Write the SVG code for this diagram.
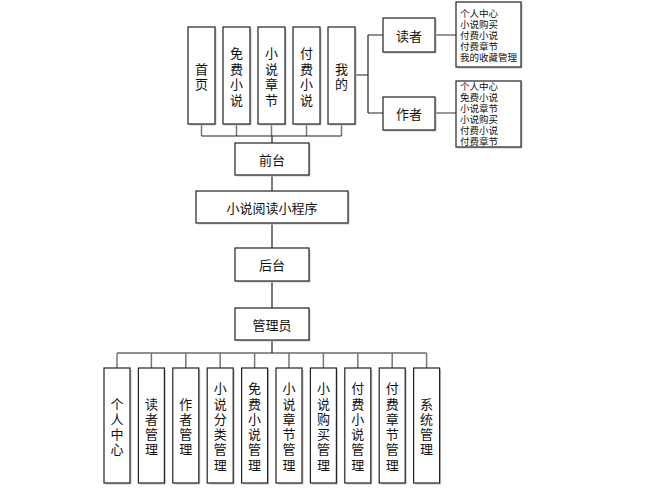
<svg xmlns="http://www.w3.org/2000/svg" width="652" height="496" viewBox="0 0 652 496">
<style>
.box{fill:#fff;stroke:#222;stroke-width:1.2}
.sh{fill:#c8c8c8}
.t{font-family:"Noto Sans CJK SC","Noto Sans",sans-serif;font-size:13px;fill:#111;text-anchor:middle;dominant-baseline:central}
.s{font-family:"Noto Sans CJK SC","Noto Sans",sans-serif;font-size:9.5px;fill:#111;dominant-baseline:central}
.ln{stroke:#222;stroke-width:1.2;fill:none}
.st{stroke:#777;stroke-width:1.5;fill:none}
</style>
<rect width="652" height="496" fill="#fff"/>
<g id="connectors">
<path class="st" d="M201.5 124V136M236.5 124V136M271.5 124V136M306.5 124V136M341.5 124V136"/>
<path class="ln" d="M201.5 136H341.5M272 136V143M272 175V191M272 223V248M272 281V308M272 340V353"/>
<path class="ln" d="M355 75H368M368 35V113M368 35H383M368 113H383"/>
<path class="st" d="M435 35H456M435 113H456"/>
<path class="ln" d="M117 353H426.6"/>
<path class="st" d="M117 353V368M151.4 353V368M185.8 353V368M220.2 353V368M254.6 353V368M289 353V368M323.4 353V368M357.8 353V368M392.2 353V368M426.6 353V368"/>
</g>
<g id="n-shouye"><rect class="sh" x="189.5" y="28.5" width="27" height="97"/><rect class="box" x="188" y="27" width="27" height="97"/><text class="t" x="201.5"><tspan x="201.5" y="67.75">首</tspan><tspan x="201.5" y="83.25">页</tspan></text></g>
<g id="n-mianfei"><rect class="sh" x="224.5" y="28.5" width="27" height="97"/><rect class="box" x="223" y="27" width="27" height="97"/><text class="t"><tspan x="236.5" y="52.25">免</tspan><tspan x="236.5" y="67.75">费</tspan><tspan x="236.5" y="83.25">小</tspan><tspan x="236.5" y="98.75">说</tspan></text></g>
<g id="n-zhangjie"><rect class="sh" x="259.5" y="28.5" width="27" height="97"/><rect class="box" x="258" y="27" width="27" height="97"/><text class="t"><tspan x="271.5" y="52.25">小</tspan><tspan x="271.5" y="67.75">说</tspan><tspan x="271.5" y="83.25">章</tspan><tspan x="271.5" y="98.75">节</tspan></text></g>
<g id="n-fufei"><rect class="sh" x="294.5" y="28.5" width="27" height="97"/><rect class="box" x="293" y="27" width="27" height="97"/><text class="t"><tspan x="306.5" y="52.25">付</tspan><tspan x="306.5" y="67.75">费</tspan><tspan x="306.5" y="83.25">小</tspan><tspan x="306.5" y="98.75">说</tspan></text></g>
<g id="n-wode"><rect class="sh" x="329.5" y="28.5" width="27" height="97"/><rect class="box" x="328" y="27" width="27" height="97"/><text class="t"><tspan x="341.5" y="67.75">我</tspan><tspan x="341.5" y="83.25">的</tspan></text></g>
<g id="n-duzhe"><rect class="sh" x="384.5" y="19.5" width="52" height="34"/><rect class="box" x="383" y="18" width="52" height="34"/><text class="t" x="409" y="35">读者</text></g>
<g id="n-zuozhe"><rect class="sh" x="384.5" y="98.5" width="52" height="33"/><rect class="box" x="383" y="97" width="52" height="33"/><text class="t" x="409" y="113.5">作者</text></g>
<g id="n-duzhe-list"><rect class="sh" x="457.5" y="3.5" width="65" height="65"/><rect class="box" x="456" y="2" width="65" height="65"/><text class="s"><tspan x="460" y="12.5">个人中心</tspan><tspan x="460" y="23.5">小说购买</tspan><tspan x="460" y="34.5">付费小说</tspan><tspan x="460" y="45.5">付费章节</tspan><tspan x="460" y="56.5">我的收藏管理</tspan></text></g>
<g id="n-zuozhe-list"><rect class="sh" x="457.5" y="82.5" width="65" height="66"/><rect class="box" x="456" y="81" width="65" height="66"/><text class="s"><tspan x="460" y="85.5">个人中心</tspan><tspan x="460" y="96.5">免费小说</tspan><tspan x="460" y="107.5">小说章节</tspan><tspan x="460" y="118.5">小说购买</tspan><tspan x="460" y="129.5">付费小说</tspan><tspan x="460" y="140.5">付费章节</tspan></text></g>
<g id="n-qiantai"><rect class="sh" x="236.5" y="144.5" width="74" height="32"/><rect class="box" x="235" y="143" width="74" height="32"/><text class="t" x="272" y="159">前台</text></g>
<g id="n-app"><rect class="sh" x="197.5" y="192.5" width="152" height="32"/><rect class="box" x="196" y="191" width="152" height="32"/><text class="t" x="272" y="207">小说阅读小程序</text></g>
<g id="n-houtai"><rect class="sh" x="236.5" y="249.5" width="74" height="33"/><rect class="box" x="235" y="248" width="74" height="33"/><text class="t" x="272" y="264.5">后台</text></g>
<g id="n-admin"><rect class="sh" x="236.5" y="309.5" width="74" height="32"/><rect class="box" x="235" y="308" width="74" height="32"/><text class="t" x="272" y="324">管理员</text></g>
<g id="n-b1"><rect class="sh" x="105.5" y="369.5" width="26" height="115"/><rect class="box" x="104" y="368" width="26" height="115"/><text class="t"><tspan x="117" y="402.5">个</tspan><tspan x="117" y="417.8">人</tspan><tspan x="117" y="433.1">中</tspan><tspan x="117" y="448.4">心</tspan></text></g>
<g id="n-b2"><rect class="sh" x="139.9" y="369.5" width="26" height="115"/><rect class="box" x="138.4" y="368" width="26" height="115"/><text class="t"><tspan x="151.4" y="402.5">读</tspan><tspan x="151.4" y="417.8">者</tspan><tspan x="151.4" y="433.1">管</tspan><tspan x="151.4" y="448.4">理</tspan></text></g>
<g id="n-b3"><rect class="sh" x="174.3" y="369.5" width="26" height="115"/><rect class="box" x="172.8" y="368" width="26" height="115"/><text class="t"><tspan x="185.8" y="402.5">作</tspan><tspan x="185.8" y="417.8">者</tspan><tspan x="185.8" y="433.1">管</tspan><tspan x="185.8" y="448.4">理</tspan></text></g>
<g id="n-b4"><rect class="sh" x="208.7" y="369.5" width="26" height="115"/><rect class="box" x="207.2" y="368" width="26" height="115"/><text class="t"><tspan x="220.2" y="387.2">小</tspan><tspan x="220.2" y="402.5">说</tspan><tspan x="220.2" y="417.8">分</tspan><tspan x="220.2" y="433.1">类</tspan><tspan x="220.2" y="448.4">管</tspan><tspan x="220.2" y="463.7">理</tspan></text></g>
<g id="n-b5"><rect class="sh" x="243.1" y="369.5" width="26" height="115"/><rect class="box" x="241.6" y="368" width="26" height="115"/><text class="t"><tspan x="254.6" y="387.2">免</tspan><tspan x="254.6" y="402.5">费</tspan><tspan x="254.6" y="417.8">小</tspan><tspan x="254.6" y="433.1">说</tspan><tspan x="254.6" y="448.4">管</tspan><tspan x="254.6" y="463.7">理</tspan></text></g>
<g id="n-b6"><rect class="sh" x="277.5" y="369.5" width="26" height="115"/><rect class="box" x="276" y="368" width="26" height="115"/><text class="t"><tspan x="289" y="387.2">小</tspan><tspan x="289" y="402.5">说</tspan><tspan x="289" y="417.8">章</tspan><tspan x="289" y="433.1">节</tspan><tspan x="289" y="448.4">管</tspan><tspan x="289" y="463.7">理</tspan></text></g>
<g id="n-b7"><rect class="sh" x="311.9" y="369.5" width="26" height="115"/><rect class="box" x="310.4" y="368" width="26" height="115"/><text class="t"><tspan x="323.4" y="387.2">小</tspan><tspan x="323.4" y="402.5">说</tspan><tspan x="323.4" y="417.8">购</tspan><tspan x="323.4" y="433.1">买</tspan><tspan x="323.4" y="448.4">管</tspan><tspan x="323.4" y="463.7">理</tspan></text></g>
<g id="n-b8"><rect class="sh" x="346.3" y="369.5" width="26" height="115"/><rect class="box" x="344.8" y="368" width="26" height="115"/><text class="t"><tspan x="357.8" y="387.2">付</tspan><tspan x="357.8" y="402.5">费</tspan><tspan x="357.8" y="417.8">小</tspan><tspan x="357.8" y="433.1">说</tspan><tspan x="357.8" y="448.4">管</tspan><tspan x="357.8" y="463.7">理</tspan></text></g>
<g id="n-b9"><rect class="sh" x="380.7" y="369.5" width="26" height="115"/><rect class="box" x="379.2" y="368" width="26" height="115"/><text class="t"><tspan x="392.2" y="387.2">付</tspan><tspan x="392.2" y="402.5">费</tspan><tspan x="392.2" y="417.8">章</tspan><tspan x="392.2" y="433.1">节</tspan><tspan x="392.2" y="448.4">管</tspan><tspan x="392.2" y="463.7">理</tspan></text></g>
<g id="n-b10"><rect class="sh" x="415.1" y="369.5" width="26" height="115"/><rect class="box" x="413.6" y="368" width="26" height="115"/><text class="t"><tspan x="426.6" y="402.5">系</tspan><tspan x="426.6" y="417.8">统</tspan><tspan x="426.6" y="433.1">管</tspan><tspan x="426.6" y="448.4">理</tspan></text></g>
</svg>
